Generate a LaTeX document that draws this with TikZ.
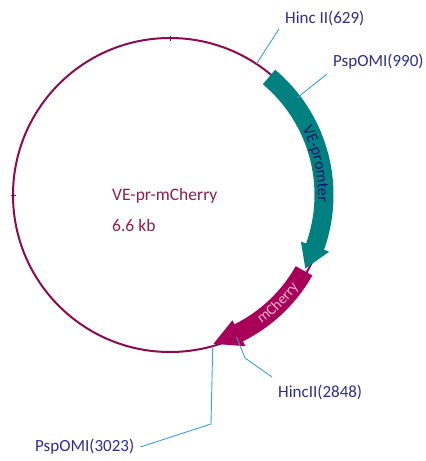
\documentclass[tikz,border=0pt]{standalone}
\usepackage{fontspec}
\setmainfont{Carlito}
\usetikzlibrary{calc,decorations.text}
\definecolor{mapline}{RGB}{139,10,80}
\definecolor{promoter}{RGB}{0,128,128}
\definecolor{cherry}{RGB}{168,0,88}
\definecolor{leader}{RGB}{60,160,215}
\definecolor{sitetext}{RGB}{45,45,140}
\definecolor{titletext}{RGB}{139,30,80}
\definecolor{promtext}{RGB}{20,20,110}
\definecolor{cherrytext}{RGB}{235,180,205}

\begin{document}
\begin{tikzpicture}[x=1pt,y=1pt,
  site/.style={font=\fontsize{17}{20}\selectfont, text=sitetext, inner sep=0pt, anchor=west},
  leaderline/.style={draw=leader, line width=0.9pt},
  title/.style={font=\fontsize{17.5}{20}\selectfont, text=titletext, inner sep=0pt, anchor=west},
  backbone/.style={draw=mapline, line width=2pt}]
\useasboundingbox (0,0) rectangle (426,461);
\coordinate (C) at (170,266);

% plasmid backbone with small position ticks
\draw[backbone] (C) circle[radius=157];
\draw[mapline, line width=0.8pt] ($(C)+(90:154)$) -- ($(C)+(90:159)$);
\draw[mapline, line width=0.8pt] ($(C)+(180:154)$) -- ($(C)+(180:159)$);

% mCherry feature arrow (clockwise)
\fill[cherry] ($(C)+(-29.5:163.5)$) arc[start angle=-29.5, end angle=-63.5, radius=163.5]
  -- ($(C)+(-63.5:169)$) -- ($(C)+(-73.7:155)$) -- ($(C)+(-63.5:140)$)
  -- ($(C)+(-63.5:144.5)$) arc[start angle=-63.5, end angle=-29.5, radius=144.5] -- cycle;

% VE promoter feature arrow (clockwise)
\fill[promoter] ($(C)+(50:163.5)$) arc[start angle=50, end angle=-19.6, radius=163.5]
  -- ($(C)+(-19.6:169)$) -- ($(C)+(-28.5:154)$) -- ($(C)+(-19.6:139)$)
  -- ($(C)+(-19.6:144.5)$) arc[start angle=-19.6, end angle=50, radius=144.5] -- cycle;

% feature names along the arrows
\path[decorate, decoration={text along path, text align=center,
  text={|\fontsize{16}{18}\selectfont\color{promtext}|VE-promter}}]
  ($(C)+(33:148)$) arc[start angle=33, end angle=-9, radius=148];
\path[decorate, decoration={text along path, text align=center,
  text={|\fontsize{15}{18}\selectfont\color{cherrytext}|mCherry}}]
  ($(C)+(-63:158)$) arc[start angle=-63, end angle=-27, radius=158];

% plasmid name and size
\node[title] (name) at (112,265) {VE-pr-mCherry};
\node[title] (size) at (112,236) {6.6 kb};

% restriction site labels
\node[site] (h629) at (285,443) {Hinc II(629)};
\node[site] (p990) at (333,399) {PspOMI(990)};
\node[site] (h2848) at (278,69) {HincII(2848)};
\node[site] (p3023) at (35,14) {PspOMI(3023)};

% cut positions on the backbone
\coordinate (c629) at ($(C)+(56.6:157)$);
\coordinate (c990) at ($(C)+(37.4:160)$);
\coordinate (c2848) at ($(C)+(-64.9:157)$);
\coordinate (c3023) at ($(C)+(-74.2:157)$);
\coordinate (b2848) at (245,103);
\coordinate (b3023) at (211,37);

% leader lines
\draw[leaderline] (c629) -- ([xshift=-6pt,yshift=-11pt]h629.west);
\draw[leaderline] (c990) -- ([xshift=-6pt,yshift=-12pt]p990.west);
\draw[leaderline] (c2848) -- (b2848) -- ([xshift=-6pt,yshift=15pt]h2848.west);
\draw[leaderline] (c3023) -- (b3023) -- ([xshift=6pt]p3023.east);
\end{tikzpicture}
\end{document}
